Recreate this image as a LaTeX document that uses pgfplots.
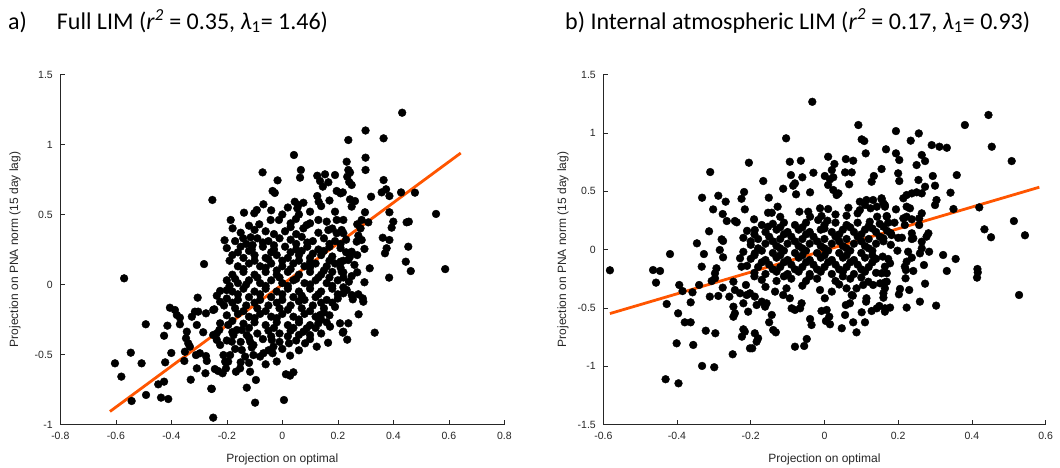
\documentclass[border=0pt]{standalone}
\usepackage{fontspec}
\setmainfont{Liberation Sans}
\newfontfamily\titlefont{Carlito}
\usepackage{pgfplots}
\pgfplotsset{compat=1.18}
\definecolor{fitline}{RGB}{255,85,0}
\definecolor{axgray}{RGB}{38,38,38}
\pgfplotsset{
  myax/.style={
    scale only axis, height=350pt,
    axis x line*=bottom, axis y line*=left,
    axis line style={axgray, line width=0.6pt},
    tick align=inside, major tick length=5pt,
    tick style={axgray, line width=0.6pt},
    ticklabel style={font=\fontsize{10.5}{12}\selectfont, text=axgray},
    xticklabel style={yshift=-4pt},
    yticklabel style={xshift=-4pt},
    label style={font=\fontsize{12}{14}\selectfont, text=axgray},
    xlabel={Projection on optimal},
    ylabel={Projection on PNA norm (15 day lag)},
    xlabel style={at={(axis description cs:0.5,-0.0986)}, anchor=center},
  },
  dots/.style={only marks, mark=*, mark size=3.9pt, mark options={fill=black, draw=none}},
  fit/.style={fitline, line width=2.8pt, no marks},
}
\begin{document}
\begin{tikzpicture}
\path[use as bounding box] (0,0) rectangle (1060pt,467pt);
\node[anchor=west, font=\titlefont\fontsize{24}{28}\selectfont, inner sep=0pt] at (8pt,446pt)
  {a)\hspace{30pt}Full LIM (\textit{r}\textsuperscript{\textit{2}} = 0.35, \textit{λ}\textsubscript{1}= 1.46)};
\node[anchor=west, font=\titlefont\fontsize{24}{28}\selectfont, inner sep=0pt] at (565pt,446pt)
  {b) Internal atmospheric LIM (\textit{r}\textsuperscript{\textit{2}} = 0.17, \textit{λ}\textsubscript{1}= 0.93)};

\begin{axis}[myax, at={(60.3pt,42.5pt)}, anchor=south west, width=444pt,
  xmin=-0.8, xmax=0.8, ymin=-1, ymax=1.5,
  xtick={-0.8,-0.6,-0.4,-0.2,0,0.2,0.4,0.6,0.8},
  xticklabels={-0.8,-0.6,-0.4,-0.2,0,0.2,0.4,0.6,0.8},
  ytick={-1,-0.5,0,0.5,1,1.5},
  yticklabels={-1,-0.5,0,0.5,1,1.5},
  ylabel style={at={(axis description cs:-0.102,0.5)}, anchor=center},
]
\addplot[dots] coordinates {
(-0.252,0.604) (-0.282,0.146)
(0.042,0.925) (0.067,0.818) (0.064,0.763) (-0.071,0.801) (-0.017,0.744)
(-0.035,0.668) (-0.027,0.654)
(0.126,0.777) (0.154,0.787) (0.19,0.782) (0.166,0.73) (0.136,0.739) (0.146,0.699)
(0.238,1.032) (0.232,0.877) (0.238,0.818) (0.234,0.77)
(0.196,0.668) (0.21,0.651) (0.126,0.632) (0.131,0.591)
(0.045,0.591) (0.058,0.568) (0.076,0.584) (0.054,0.544)
(-0.068,0.573) (-0.092,0.532) (-0.101,0.509) (-0.138,0.513)
(-0.186,0.461) (-0.179,0.401) (-0.083,0.43) (-0.042,0.461) (-0.012,0.461) (0.03,0.437) (0.049,0.468)
(-0.208,0.316) (-0.141,0.33) (-0.114,0.337) (-0.107,0.282)
(0.19,0.52) (0.22,0.461) (0.196,0.461) (0.16,0.449) (0.13,0.461) (0.166,0.389) (0.196,0.366) (0.1,0.437) (0.088,0.425) (0.076,0.401)
(0.432,1.227) (0.30,1.10) (0.365,1.044) (0.30,0.906) (0.30,0.818)
(0.244,0.80) (0.241,0.732) (0.25,0.711) (0.218,0.658) (0.244,0.608) (0.262,0.596) (0.25,0.556)
(0.32,0.627) (0.365,0.746) (0.358,0.658) (0.374,0.68) (0.386,0.632) (0.428,0.658) (0.478,0.656)
(0.554,0.504) (0.386,0.516) (0.40,0.449) (0.394,0.406) (0.448,0.444) (0.456,0.449)
(0.298,0.516) (0.286,0.461) (0.31,0.444) (0.27,0.43) (0.282,0.401)
(0.214,0.389) (0.22,0.366) (0.274,0.349) (0.286,0.318) (0.268,0.306) (0.296,0.254)
(0.362,0.334) (0.386,0.318) (0.376,0.259) (0.37,0.223) (0.454,0.27) (0.445,0.163)
(0.25,0.234) (0.244,0.199) (0.238,0.175)
(0.463,0.096) (0.587,0.11) (0.385,0.049) (0.315,0.116) (0.27,0.087) (0.22,0.087) (0.296,0.016)
(0.232,-0.039) (0.22,-0.063) (0.25,-0.075) (0.254,-0.106) (0.274,-0.07) (0.29,-0.099) (0.292,-0.123)
(0.275,-0.213) (0.238,-0.277) (0.208,-0.277) (0.218,-0.344) (0.333,-0.344) (0.234,-0.394)
(0.21,0.163) (0.214,0.091)
(-0.57,0.044) (-0.305,-0.094) (-0.405,-0.166) (-0.387,-0.182) (-0.38,-0.218) (-0.369,-0.237)
(-0.326,-0.23) (-0.315,-0.194) (-0.303,-0.194) (-0.275,-0.206)
(-0.245,-0.177) (-0.236,-0.08) (-0.224,-0.046) (-0.224,-0.123)
(-0.492,-0.284) (-0.414,-0.294) (-0.426,-0.366) (-0.369,-0.284) (-0.308,-0.289)
(-0.344,-0.337) (-0.347,-0.384) (-0.339,-0.42) (-0.333,-0.444)
(-0.285,-0.341) (-0.249,-0.361) (-0.236,-0.349) (-0.227,-0.325)
(-0.546,-0.487) (-0.603,-0.563) (-0.507,-0.563) (-0.58,-0.658)
(-0.4,-0.489) (-0.422,-0.556) (-0.351,-0.48) (-0.353,-0.546)
(-0.311,-0.504) (-0.297,-0.491) (-0.275,-0.511) (-0.272,-0.546)
(-0.308,-0.599) (-0.277,-0.634) (-0.33,-0.68) (-0.243,-0.604) (-0.231,-0.618)
(-0.426,-0.694) (-0.447,-0.713) (-0.256,-0.744) (-0.491,-0.789) (-0.543,-0.832)
(-0.437,-0.808) (-0.411,-0.818) (-0.249,-0.951)
(-0.249,-0.182) (-0.236,-0.396) (-0.224,-0.432) (-0.212,-0.504) (-0.206,-0.551) (-0.203,-0.599)
(-0.215,-0.634) (-0.254,-0.746)
(-0.167,-0.623) (-0.152,-0.599) (-0.15,-0.556) (-0.116,-0.623) (-0.128,-0.737) (-0.098,-0.844) (-0.095,-0.682)
(0.006,-0.825) (0.013,-0.641) (0.04,-0.627) (0.028,-0.651) (0.028,-0.508)
(-0.188,-0.504) (-0.195,-0.551)
(-0.146,-0.468) (-0.134,-0.515) (-0.104,-0.504) (-0.08,-0.515) (-0.068,-0.491)
(-0.038,-0.396) (-0.032,-0.444) (-0.035,-0.491)
(0.024,-0.42) (0.082,-0.42) (0.124,-0.444) (0.165,-0.416)
(0.076,-0.337) (0.1,-0.361) (0.088,-0.313)
(0.172,-0.301) (0.22,-0.337) (0.13,-0.277) (0.136,-0.218)
(-0.182,-0.408) (-0.176,-0.361) (-0.164,-0.325) (-0.195,-0.289) (-0.224,-0.277)
(-0.146,-0.325) (-0.128,-0.361) (-0.116,-0.408) (-0.104,-0.432)
(-0.06,0.38) (-0.03,0.36) (0.01,0.38) (0.05,0.36) (0.13,0.37) (0.18,0.40)
(-0.12,0.42) (-0.15,0.37) (-0.1,0.39) (0.03,0.41) (0.06,0.5) (0.1,0.52) (0.0,0.5) (-0.04,0.53) (0.14,0.56) (0.17,0.6) (0.02,0.55)
(-0.17,0.31) (-0.09,0.33) (-0.05,0.31) (-0.01,0.33) (0.03,0.32) (0.07,0.34) (0.11,0.31) (0.15,0.33) (0.19,0.31) (0.23,0.32)
(-0.2,0.26) (-0.15,0.27) (-0.11,0.25) (-0.07,0.27) (-0.03,0.25) (0.01,0.27) (0.05,0.25) (0.09,0.27) (0.13,0.25) (0.17,0.27) (0.21,0.26)
(-0.18,0.21) (-0.14,0.19) (-0.1,0.21) (-0.06,0.19) (-0.02,0.21) (0.02,0.19) (0.06,0.21) (0.1,0.19) (0.14,0.21) (0.18,0.2) (0.27,0.21)
(-0.16,0.13) (-0.12,0.15) (-0.08,0.13) (-0.04,0.15) (0,0.13) (0.04,0.15) (0.08,0.13) (0.12,0.15) (0.16,0.13) (0.19,0.15) (0.26,0.14)
(-0.18,0.07) (-0.14,0.09) (-0.1,0.07) (-0.06,0.09) (-0.02,0.07) (0.02,0.09) (0.06,0.07) (0.1,0.09) (0.14,0.07) (0.18,0.09) (0.25,0.06)
(-0.2,0.03) (-0.16,0.01) (-0.12,0.03) (-0.08,0.01) (-0.04,0.03) (0,0.01) (0.04,0.03) (0.08,0.01) (0.12,0.03) (0.16,0.01) (0.2,0.03) (0.24,0.02)
(-0.2,-0.04) (-0.18,-0.05) (-0.14,-0.03) (-0.1,-0.05) (-0.06,-0.03) (-0.02,-0.05) (0.02,-0.03) (0.06,-0.05) (0.1,-0.03) (0.14,-0.05) (0.18,-0.03)
(-0.2,-0.1) (-0.16,-0.11) (-0.12,-0.09) (-0.08,-0.11) (-0.04,-0.09) (0,-0.11) (0.04,-0.09) (0.08,-0.11) (0.12,-0.09) (0.16,-0.11) (0.2,-0.1)
(-0.21,-0.15) (-0.17,-0.17) (-0.13,-0.15) (-0.09,-0.17) (-0.05,-0.15) (-0.01,-0.17) (0.03,-0.15) (0.07,-0.17) (0.11,-0.15) (0.15,-0.17) (0.19,-0.16)
(-0.2,-0.22) (-0.16,-0.21) (-0.12,-0.23) (-0.08,-0.21) (-0.04,-0.23) (0,-0.21) (0.04,-0.23) (0.08,-0.21) (0.12,-0.23) (0.17,-0.22)
(-0.14,-0.28) (-0.1,-0.27) (-0.06,-0.29) (-0.02,-0.27) (0.02,-0.29) (0.06,-0.27) (0.1,-0.29) (0.16,-0.27)
(-0.18,-0.34) (-0.09,-0.35) (-0.05,-0.33) (-0.01,-0.35) (0.03,-0.33) (0.06,-0.36) (0.14,-0.35)
(-0.2,-0.4) (-0.15,-0.41) (-0.07,-0.39) (-0.01,-0.41) (0.05,-0.4) (0.1,-0.39)
(-0.17,-0.46) (-0.11,-0.45) (-0.05,-0.47) (0.0,-0.46) (0.06,-0.47)
(-0.12,-0.56) (-0.06,-0.57) (-0.02,-0.55)
(-0.13,0.29) (-0.07,0.30) (-0.03,0.28) (0.05,0.29) (0.09,0.30) (0.17,0.29) (0.21,0.29)
(-0.16,0.23) (-0.12,0.24) (-0.04,0.23) (0.03,0.23) (0.07,0.24) (0.11,0.22) (0.15,0.24) (0.23,0.23)
(-0.19,0.17) (-0.1,0.17) (-0.05,0.18) (0.0,0.17) (0.06,0.17) (0.1,0.16) (0.17,0.17) (0.22,0.17)
(-0.14,0.11) (-0.06,0.12) (-0.02,0.10) (0.03,0.11) (0.1,0.12) (0.15,0.10) (0.21,0.12)
(-0.17,0.04) (-0.09,0.05) (-0.01,0.05) (0.05,0.04) (0.13,0.05) (0.17,0.05) (0.22,0.05)
(-0.19,-0.01) (-0.13,0.0) (-0.06,-0.01) (0.02,-0.01) (0.1,0.0) (0.18,-0.01) (0.22,-0.02)
(-0.16,-0.07) (-0.08,-0.07) (0.0,-0.07) (0.07,-0.08) (0.13,-0.07) (0.2,-0.07)
(-0.18,-0.13) (-0.1,-0.13) (-0.02,-0.13) (0.06,-0.12) (0.14,-0.13) (0.18,-0.13)
(-0.14,-0.19) (-0.06,-0.19) (0.02,-0.18) (0.1,-0.19) (0.15,-0.2)
(-0.18,-0.26) (-0.1,-0.24) (-0.02,-0.24) (0.06,-0.25) (0.14,-0.25)
(-0.12,-0.31) (-0.03,-0.31) (0.04,-0.31) (0.12,-0.31)
(-0.12,-0.38) (-0.04,-0.37) (0.02,-0.37)
};
\addplot[fit] coordinates {(-0.621,-0.907) (0.643,0.939)};
\end{axis}

\begin{axis}[myax, at={(603.3pt,42.5pt)}, anchor=south west, width=442.3pt,
  xmin=-0.6, xmax=0.6, ymin=-1.5, ymax=1.5,
  xtick={-0.6,-0.4,-0.2,0,0.2,0.4,0.6},
  xticklabels={-0.6,-0.4,-0.2,0,0.2,0.4,0.6},
  ytick={-1.5,-1,-0.5,0,0.5,1,1.5},
  yticklabels={-1.5,-1,-0.5,0,0.5,1,1.5},
  ylabel style={at={(axis description cs:-0.091,0.5)}, anchor=center},
]
\addplot[dots] coordinates {
(-0.205,0.744) (-0.31,0.664) (-0.332,0.444) (-0.288,0.461) (-0.268,0.41) (-0.218,0.493) (-0.225,0.435) (-0.216,0.344) (-0.302,0.344) (-0.276,0.304) (-0.265,0.244) (-0.243,0.244) (-0.238,0.233) (-0.313,0.156) (-0.279,0.087) (-0.275,0.073) (-0.346,0.053)
(-0.033,1.266) (0.092,1.067) (-0.104,0.953) (0.101,0.944) (0.108,0.93) (0.112,0.824) (0.167,0.859) (-0.094,0.752) (-0.064,0.761) (0.01,0.795) (0.058,0.775) (0.078,0.761) (0.027,0.733) (0.02,0.681) (0.056,0.661) (0.074,0.661) (0.155,0.69) (-0.091,0.638) (-0.06,0.619) (-0.08,0.567) (-0.085,0.547) (-0.03,0.658) (0.001,0.63) (0.015,0.601) (0.024,0.619) (0.134,0.63) (0.128,0.581) (-0.166,0.587) (-0.112,0.521) (0.01,0.553) (0.024,0.51) (0.038,0.481) (0.033,0.467) (0.067,0.559) (-0.077,0.473) (-0.039,0.49) (-0.151,0.444) (-0.127,0.367) (-0.153,0.315) (-0.143,0.315) (-0.191,0.259) (-0.189,0.167) (-0.17,0.21) (-0.153,0.195) (-0.068,0.324) (-0.044,0.324) (-0.039,0.281) (-0.012,0.353) (0.01,0.347) (-0.008,0.287) (-0.017,0.253) (0.008,0.247) (0.065,0.358) (0.096,0.41) (0.114,0.424) (0.132,0.424) (0.155,0.43) (0.164,0.381) (0.142,0.367) (0.125,0.353) (0.11,0.381) (0.096,0.338) (0.143,0.281) (0.169,0.287) (0.123,0.238)
(0.445,1.153) (0.381,1.067) (0.194,1.015) (0.256,0.995) (0.234,0.933) (0.291,0.895) (0.312,0.881) (0.332,0.872) (0.454,0.881) (0.194,0.824) (0.203,0.767) (0.264,0.81) (0.273,0.758) (0.25,0.724) (0.508,0.758) (0.2,0.653) (0.203,0.587) (0.255,0.596) (0.294,0.63) (0.359,0.638) (0.273,0.538) (0.3,0.547) (0.342,0.487) (0.214,0.439) (0.223,0.467) (0.237,0.481) (0.25,0.49) (0.264,0.481) (0.155,0.439) (0.16,0.396) (0.164,0.367) (0.304,0.424) (0.3,0.381) (0.194,0.344) (0.223,0.367) (0.232,0.353) (0.35,0.347) (0.42,0.361) (0.264,0.31) (0.257,0.267) (0.169,0.281) (0.173,0.23) (0.16,0.195) (0.214,0.267) (0.223,0.281) (0.237,0.259) (0.218,0.21) (0.257,0.21) (0.514,0.244) (0.434,0.173) (0.452,0.105) (0.544,0.122) (0.282,0.139) (0.277,0.11) (0.182,0.124) (0.21,0.101) (0.237,0.139) (0.241,0.096) (0.264,0.067)
(0.16,0.096) (0.237,0.09) (0.198,-0.01) (0.227,-0.019) (0.237,-0.07) (0.259,-0.033) (0.264,0.01) (0.284,-0.019) (0.322,-0.047) (0.356,-0.081) (0.158,-0.061) (0.173,-0.081) (0.178,-0.118) (0.164,-0.147) (0.223,-0.104) (0.218,-0.147) (0.221,-0.176) (0.241,-0.184) (0.27,-0.133) (0.332,-0.184) (0.415,-0.167) (0.416,-0.196) (0.414,-0.241) (0.155,-0.204) (0.169,-0.204) (0.22,-0.247) (0.164,-0.281) (0.273,-0.293) (0.16,-0.375) (0.16,-0.413) (0.205,-0.338) (0.202,-0.384) (0.23,-0.347) (0.528,-0.39) (0.259,-0.447) (0.303,-0.481) (0.223,-0.498) (0.178,-0.498) (0.164,-0.533)
(-0.582,-0.178) (-0.465,-0.176) (-0.446,-0.184) (-0.457,-0.284) (-0.419,-0.039) (-0.327,-0.039) (-0.333,-0.147) (-0.293,-0.161) (-0.297,-0.204) (-0.284,-0.004) (-0.275,-0.067) (-0.229,-0.075) (-0.225,-0.147) (-0.394,-0.304) (-0.385,-0.356) (-0.358,-0.367) (-0.34,-0.304) (-0.306,-0.27) (-0.297,-0.247) (-0.276,-0.327) (-0.311,-0.404) (-0.288,-0.398) (-0.258,-0.404) (-0.428,-0.467) (-0.363,-0.453) (-0.247,-0.276) (-0.243,-0.347) (-0.229,-0.375) (-0.213,-0.304) (-0.211,-0.39) (-0.22,-0.461) (-0.207,-0.533) (-0.397,-0.547) (-0.379,-0.624) (-0.363,-0.624) (-0.322,-0.696) (-0.296,-0.718) (-0.247,-0.49) (-0.243,-0.547) (-0.247,-0.576) (-0.401,-0.804) (-0.356,-0.818) (-0.249,-0.898) (-0.332,-0.998) (-0.299,-1.009) (-0.431,-1.112) (-0.396,-1.147) (-0.224,-0.747) (-0.202,-0.847)
(-0.189,-0.033) (-0.202,-0.375) (-0.189,-0.404) (-0.184,-0.476) (-0.17,-0.447) (-0.157,-0.461) (-0.161,-0.49) (-0.143,-0.561) (-0.15,-0.624) (-0.139,-0.69) (-0.132,-0.71) (-0.22,-0.684) (-0.216,-0.704) (-0.189,-0.718) (-0.18,-0.761) (-0.184,-0.79) (-0.196,-0.847) (-0.08,-0.833) (-0.055,-0.827) (-0.048,-0.767) (-0.039,-0.596) (-0.035,-0.647) (-0.008,-0.527) (0.006,-0.518) (0.013,-0.576) (0.004,-0.613) (0.015,-0.641) (0.047,-0.675) (0.056,-0.561) (0.078,-0.624) (0.087,-0.71) (0.058,-0.476) (0.069,-0.461) (0.077,-0.396) (0.101,-0.538) (0.11,-0.624) (0.114,-0.418) (0.113,-0.447) (0.128,-0.527) (0.142,-0.504) (0.149,-0.484) (0.164,-0.504) (0.001,-0.418) (-0.089,-0.504) (-0.08,-0.518) (-0.066,-0.504) (-0.062,-0.461) (-0.134,-0.361) (-0.112,-0.39) (-0.103,-0.333) (-0.094,-0.418) (-0.012,-0.347) (0.02,-0.361) (0.06,-0.333) (0.074,-0.39) (0.087,-0.333) (0.105,-0.304) (0.119,-0.276) (0.132,-0.304) (0.151,-0.29) (0.164,-0.333) (0.169,-0.276)
(-0.12,0.28) (0.03,0.3) (0.06,0.29) (0.09,0.31)
(-0.14,0.22) (-0.11,0.23) (-0.08,0.21) (-0.05,0.23) (0.0,0.21) (0.03,0.23) (0.06,0.21) (0.09,0.23) (0.12,0.2) (0.15,0.22) (0.19,0.23)
(-0.21,0.16) (-0.16,0.15) (-0.13,0.17) (-0.1,0.15) (-0.07,0.17) (-0.04,0.15) (-0.01,0.17) (0.02,0.15) (0.05,0.17) (0.08,0.15) (0.11,0.17) (0.14,0.15) (0.17,0.16)
(-0.22,0.1) (-0.18,0.09) (-0.15,0.11) (-0.12,0.09) (-0.09,0.11) (-0.06,0.09) (-0.03,0.11) (0.0,0.09) (0.03,0.11) (0.06,0.09) (0.09,0.11) (0.12,0.09) (0.15,0.11) (0.2,0.1)
(-0.2,0.04) (-0.16,0.05) (-0.13,0.03) (-0.1,0.05) (-0.07,0.03) (-0.04,0.05) (-0.01,0.03) (0.02,0.05) (0.05,0.03) (0.08,0.05) (0.11,0.03) (0.14,0.05) (0.18,0.04)
(-0.22,-0.02) (-0.17,-0.01) (-0.14,-0.03) (-0.11,-0.01) (-0.08,-0.03) (-0.05,-0.01) (-0.02,-0.03) (0.01,-0.01) (0.04,-0.03) (0.07,-0.01) (0.1,-0.03) (0.13,-0.01)
(-0.2,-0.08) (-0.16,-0.09) (-0.13,-0.07) (-0.1,-0.09) (-0.07,-0.07) (-0.04,-0.09) (-0.01,-0.07) (0.02,-0.09) (0.05,-0.07) (0.08,-0.09) (0.11,-0.07) (0.14,-0.08)
(-0.21,-0.14) (-0.18,-0.15) (-0.15,-0.13) (-0.12,-0.15) (-0.09,-0.13) (-0.06,-0.15) (-0.03,-0.13) (0.0,-0.15) (0.03,-0.13) (0.06,-0.15) (0.09,-0.13) (0.12,-0.15)
(-0.19,-0.2) (-0.16,-0.21) (-0.13,-0.19) (-0.1,-0.21) (-0.07,-0.19) (-0.04,-0.21) (-0.01,-0.19) (0.02,-0.21) (0.05,-0.19) (0.08,-0.21) (0.11,-0.19) (0.14,-0.2)
(-0.17,-0.26) (-0.13,-0.27) (-0.09,-0.25) (-0.05,-0.27) (-0.02,-0.25) (0.03,-0.27) (0.07,-0.25)
(-0.16,-0.32) (-0.06,-0.31) (0.04,-0.3)
(-0.12,0.19) (-0.06,0.19) (0.0,0.18) (0.07,0.19) (0.13,0.18)
(-0.19,0.13) (-0.11,0.13) (-0.05,0.13) (0.04,0.13) (0.1,0.13) (0.18,0.14)
(-0.2,0.07) (-0.14,0.07) (-0.08,0.07) (-0.02,0.07) (0.04,0.07) (0.1,0.07) (0.16,0.07)
(-0.18,0.01) (-0.12,0.01) (-0.06,0.01) (0.0,0.01) (0.06,0.01) (0.12,0.01)
(-0.19,-0.05) (-0.12,-0.05) (-0.06,-0.05) (0.0,-0.05) (0.06,-0.05) (0.13,-0.05)
(-0.17,-0.11) (-0.11,-0.11) (-0.05,-0.11) (0.01,-0.11) (0.07,-0.11) (0.13,-0.11)
(-0.14,-0.17) (-0.08,-0.17) (-0.02,-0.17) (0.04,-0.17) (0.1,-0.17)
(-0.19,-0.23) (-0.11,-0.23) (-0.04,-0.23) (0.05,-0.23) (0.1,-0.24)
};
\addplot[fit] coordinates {(-0.582,-0.549) (0.583,0.534)};
\end{axis}
\end{tikzpicture}
\end{document}
